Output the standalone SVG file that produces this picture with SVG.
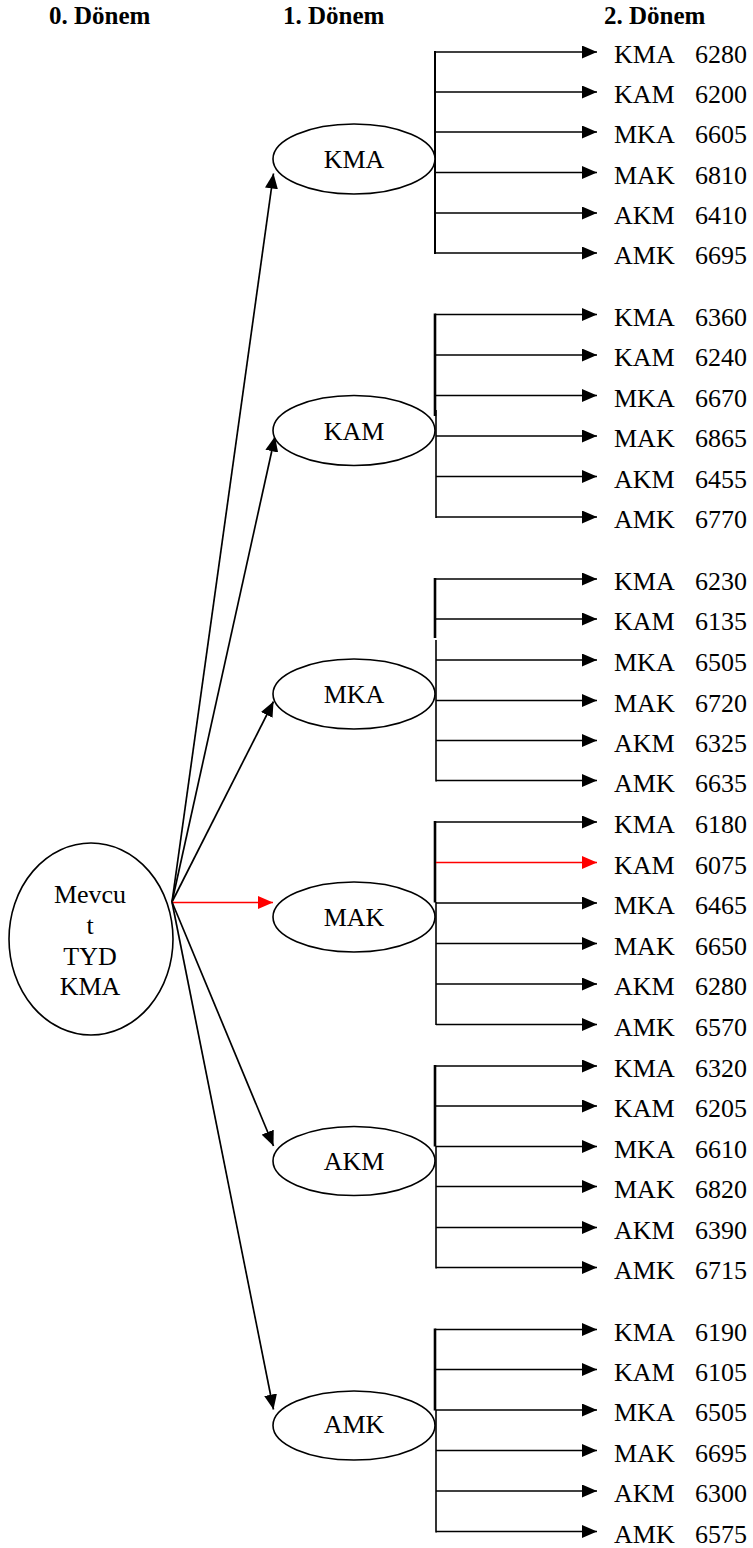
<svg xmlns="http://www.w3.org/2000/svg" width="753" height="1548" viewBox="0 0 753 1548">
<style>
text{font-family:"Liberation Serif","Times New Roman",serif;fill:#000}
.h{font-size:25px;font-weight:bold}
.t{font-size:26px}
.e{fill:#fff;stroke:#000;stroke-width:1.6}
.c{stroke:#000;stroke-width:1.7;fill:none}
.r{stroke:#f00;stroke-width:1.7;fill:none}
.vk{stroke:#000;stroke-width:2.6;fill:none}
.vn{stroke:#000;stroke-width:1.6;fill:none}
</style>
<defs>
<marker id="a" viewBox="0 0 15 13" refX="15" refY="6.5" markerWidth="15" markerHeight="13" markerUnits="userSpaceOnUse" orient="auto"><path d="M0,0 L15,6.5 L0,13 Z" fill="#000"/></marker>
<marker id="ar" viewBox="0 0 15 13" refX="15" refY="6.5" markerWidth="15" markerHeight="13" markerUnits="userSpaceOnUse" orient="auto"><path d="M0,0 L15,6.5 L0,13 Z" fill="#f00"/></marker>
</defs>
<rect width="753" height="1548" fill="#fff"/>
<g id="headers">
<text class="h" x="49" y="24">0. Dönem</text>
<text class="h" x="283" y="24">1. Dönem</text>
<text class="h" x="604" y="24">2. Dönem</text>
</g>
<g id="connectors">
<g id="root-edges">
<line class="c" x1="172" y1="902" x2="273.5" y2="173.5" marker-end="url(#a)"/>
<line class="c" x1="172" y1="902" x2="275" y2="436.5" marker-end="url(#a)"/>
<line class="c" x1="172" y1="902" x2="273.5" y2="701.5" marker-end="url(#a)"/>
<line class="r" x1="172" y1="902.5" x2="273" y2="902.5" marker-end="url(#ar)"/>
<line class="c" x1="172" y1="902" x2="273.5" y2="1146" marker-end="url(#a)"/>
<line class="c" x1="172" y1="902" x2="273.5" y2="1409.5" marker-end="url(#a)"/>
</g>
<g id="branch-KMA">
<line class="vk" x1="435" y1="51" x2="435" y2="254" style="stroke-width:2"/>
<line class="c" x1="435" y1="52" x2="597" y2="52" marker-end="url(#a)"/>
<line class="c" x1="435" y1="92" x2="597" y2="92" marker-end="url(#a)"/>
<line class="c" x1="435" y1="132" x2="597" y2="132" marker-end="url(#a)"/>
<line class="c" x1="435" y1="172.5" x2="597" y2="172.5" marker-end="url(#a)"/>
<line class="c" x1="435" y1="213" x2="597" y2="213" marker-end="url(#a)"/>
<line class="c" x1="435" y1="253" x2="597" y2="253" marker-end="url(#a)"/>
</g>
<g id="branch-KAM">
<line class="vk" x1="435" y1="313.5" x2="435" y2="416"/>
<line class="vn" x1="436" y1="410" x2="436" y2="518"/>
<line class="c" x1="435" y1="314.5" x2="597" y2="314.5" marker-end="url(#a)"/>
<line class="c" x1="435" y1="355" x2="597" y2="355" marker-end="url(#a)"/>
<line class="c" x1="435" y1="395.5" x2="597" y2="395.5" marker-end="url(#a)"/>
<line class="c" x1="436" y1="436" x2="597" y2="436" marker-end="url(#a)"/>
<line class="c" x1="436" y1="476.5" x2="597" y2="476.5" marker-end="url(#a)"/>
<line class="c" x1="436" y1="517" x2="597" y2="517" marker-end="url(#a)"/>
</g>
<g id="branch-MKA">
<line class="vk" x1="435" y1="578" x2="435" y2="638"/>
<line class="vn" x1="436" y1="640" x2="436" y2="781.5"/>
<line class="c" x1="435" y1="579" x2="597" y2="579" marker-end="url(#a)"/>
<line class="c" x1="435" y1="619" x2="597" y2="619" marker-end="url(#a)"/>
<line class="c" x1="436" y1="660" x2="597" y2="660" marker-end="url(#a)"/>
<line class="c" x1="436" y1="700.5" x2="597" y2="700.5" marker-end="url(#a)"/>
<line class="c" x1="436" y1="740.5" x2="597" y2="740.5" marker-end="url(#a)"/>
<line class="c" x1="436" y1="780.5" x2="597" y2="780.5" marker-end="url(#a)"/>
</g>
<g id="branch-MAK">
<line class="vk" x1="435" y1="821" x2="435" y2="902.5"/>
<line class="vn" x1="436" y1="902" x2="436" y2="1025"/>
<line class="c" x1="435" y1="822" x2="597" y2="822" marker-end="url(#a)"/>
<line class="r" x1="436" y1="862.5" x2="597" y2="862.5" marker-end="url(#ar)"/>
<line class="c" x1="436" y1="903" x2="597" y2="903" marker-end="url(#a)"/>
<line class="c" x1="436" y1="943.5" x2="597" y2="943.5" marker-end="url(#a)"/>
<line class="c" x1="436" y1="984" x2="597" y2="984" marker-end="url(#a)"/>
<line class="c" x1="436" y1="1024.5" x2="597" y2="1024.5" marker-end="url(#a)"/>
</g>
<g id="branch-AKM">
<line class="vk" x1="435" y1="1065" x2="435" y2="1146.5"/>
<line class="vn" x1="436" y1="1146" x2="436" y2="1268.5"/>
<line class="c" x1="435" y1="1066" x2="597" y2="1066" marker-end="url(#a)"/>
<line class="c" x1="435" y1="1106" x2="597" y2="1106" marker-end="url(#a)"/>
<line class="c" x1="436" y1="1146.5" x2="597" y2="1146.5" marker-end="url(#a)"/>
<line class="c" x1="436" y1="1186.5" x2="597" y2="1186.5" marker-end="url(#a)"/>
<line class="c" x1="436" y1="1227.5" x2="597" y2="1227.5" marker-end="url(#a)"/>
<line class="c" x1="436" y1="1267.5" x2="597" y2="1267.5" marker-end="url(#a)"/>
</g>
<g id="branch-AMK">
<line class="vk" x1="435" y1="1328.5" x2="435" y2="1410.5"/>
<line class="vn" x1="436" y1="1410" x2="436" y2="1532.5"/>
<line class="c" x1="435" y1="1329.5" x2="597" y2="1329.5" marker-end="url(#a)"/>
<line class="c" x1="435" y1="1369.5" x2="597" y2="1369.5" marker-end="url(#a)"/>
<line class="c" x1="436" y1="1410" x2="597" y2="1410" marker-end="url(#a)"/>
<line class="c" x1="436" y1="1450.5" x2="597" y2="1450.5" marker-end="url(#a)"/>
<line class="c" x1="436" y1="1491" x2="597" y2="1491" marker-end="url(#a)"/>
<line class="c" x1="436" y1="1531.5" x2="597" y2="1531.5" marker-end="url(#a)"/>
</g>
</g>
<g id="node-root">
<ellipse class="e" cx="91" cy="939" rx="82" ry="96"/>
<text class="t" text-anchor="middle" x="90" y="903">Mevcu</text>
<text class="t" text-anchor="middle" x="90" y="934">t</text>
<text class="t" text-anchor="middle" x="90" y="965">TYD</text>
<text class="t" text-anchor="middle" x="90" y="995">KMA</text>
</g>
<g id="node-KMA"><ellipse class="e" cx="354" cy="159" rx="81" ry="35"/><text class="t" text-anchor="middle" x="354" y="168">KMA</text></g>
<g id="node-KAM"><ellipse class="e" cx="354" cy="430.5" rx="81" ry="35"/><text class="t" text-anchor="middle" x="354" y="439.5">KAM</text></g>
<g id="node-MKA"><ellipse class="e" cx="354" cy="694" rx="81" ry="35"/><text class="t" text-anchor="middle" x="354" y="703">MKA</text></g>
<g id="node-MAK"><ellipse class="e" cx="354" cy="917" rx="81" ry="35"/><text class="t" text-anchor="middle" x="354" y="925.5">MAK</text></g>
<g id="node-AKM"><ellipse class="e" cx="354" cy="1161" rx="81" ry="34.5"/><text class="t" text-anchor="middle" x="354" y="1169.5">AKM</text></g>
<g id="node-AMK"><ellipse class="e" cx="354" cy="1425.5" rx="81" ry="34.5"/><text class="t" text-anchor="middle" x="354" y="1433">AMK</text></g>
<g id="results-KMA" class="t">
<text class="t" x="614" y="63">KMA</text><text class="t" x="695" y="63">6280</text>
<text class="t" x="614" y="103">KAM</text><text class="t" x="695" y="103">6200</text>
<text class="t" x="614" y="143">MKA</text><text class="t" x="695" y="143">6605</text>
<text class="t" x="614" y="183.5">MAK</text><text class="t" x="695" y="183.5">6810</text>
<text class="t" x="614" y="224">AKM</text><text class="t" x="695" y="224">6410</text>
<text class="t" x="614" y="264">AMK</text><text class="t" x="695" y="264">6695</text>
</g>
<g id="results-KAM">
<text class="t" x="614" y="325.5">KMA</text><text class="t" x="695" y="325.5">6360</text>
<text class="t" x="614" y="366">KAM</text><text class="t" x="695" y="366">6240</text>
<text class="t" x="614" y="406.5">MKA</text><text class="t" x="695" y="406.5">6670</text>
<text class="t" x="614" y="447">MAK</text><text class="t" x="695" y="447">6865</text>
<text class="t" x="614" y="487.5">AKM</text><text class="t" x="695" y="487.5">6455</text>
<text class="t" x="614" y="528">AMK</text><text class="t" x="695" y="528">6770</text>
</g>
<g id="results-MKA">
<text class="t" x="614" y="590">KMA</text><text class="t" x="695" y="590">6230</text>
<text class="t" x="614" y="630">KAM</text><text class="t" x="695" y="630">6135</text>
<text class="t" x="614" y="671">MKA</text><text class="t" x="695" y="671">6505</text>
<text class="t" x="614" y="711.5">MAK</text><text class="t" x="695" y="711.5">6720</text>
<text class="t" x="614" y="751.5">AKM</text><text class="t" x="695" y="751.5">6325</text>
<text class="t" x="614" y="791.5">AMK</text><text class="t" x="695" y="791.5">6635</text>
</g>
<g id="results-MAK">
<text class="t" x="614" y="833">KMA</text><text class="t" x="695" y="833">6180</text>
<text class="t" x="614" y="873.5">KAM</text><text class="t" x="695" y="873.5">6075</text>
<text class="t" x="614" y="914">MKA</text><text class="t" x="695" y="914">6465</text>
<text class="t" x="614" y="954.5">MAK</text><text class="t" x="695" y="954.5">6650</text>
<text class="t" x="614" y="995">AKM</text><text class="t" x="695" y="995">6280</text>
<text class="t" x="614" y="1035.5">AMK</text><text class="t" x="695" y="1035.5">6570</text>
</g>
<g id="results-AKM">
<text class="t" x="614" y="1077">KMA</text><text class="t" x="695" y="1077">6320</text>
<text class="t" x="614" y="1117">KAM</text><text class="t" x="695" y="1117">6205</text>
<text class="t" x="614" y="1157.5">MKA</text><text class="t" x="695" y="1157.5">6610</text>
<text class="t" x="614" y="1197.5">MAK</text><text class="t" x="695" y="1197.5">6820</text>
<text class="t" x="614" y="1238.5">AKM</text><text class="t" x="695" y="1238.5">6390</text>
<text class="t" x="614" y="1278.5">AMK</text><text class="t" x="695" y="1278.5">6715</text>
</g>
<g id="results-AMK">
<text class="t" x="614" y="1340.5">KMA</text><text class="t" x="695" y="1340.5">6190</text>
<text class="t" x="614" y="1380.5">KAM</text><text class="t" x="695" y="1380.5">6105</text>
<text class="t" x="614" y="1421">MKA</text><text class="t" x="695" y="1421">6505</text>
<text class="t" x="614" y="1461.5">MAK</text><text class="t" x="695" y="1461.5">6695</text>
<text class="t" x="614" y="1502">AKM</text><text class="t" x="695" y="1502">6300</text>
<text class="t" x="614" y="1542.5">AMK</text><text class="t" x="695" y="1542.5">6575</text>
</g>
</svg>
